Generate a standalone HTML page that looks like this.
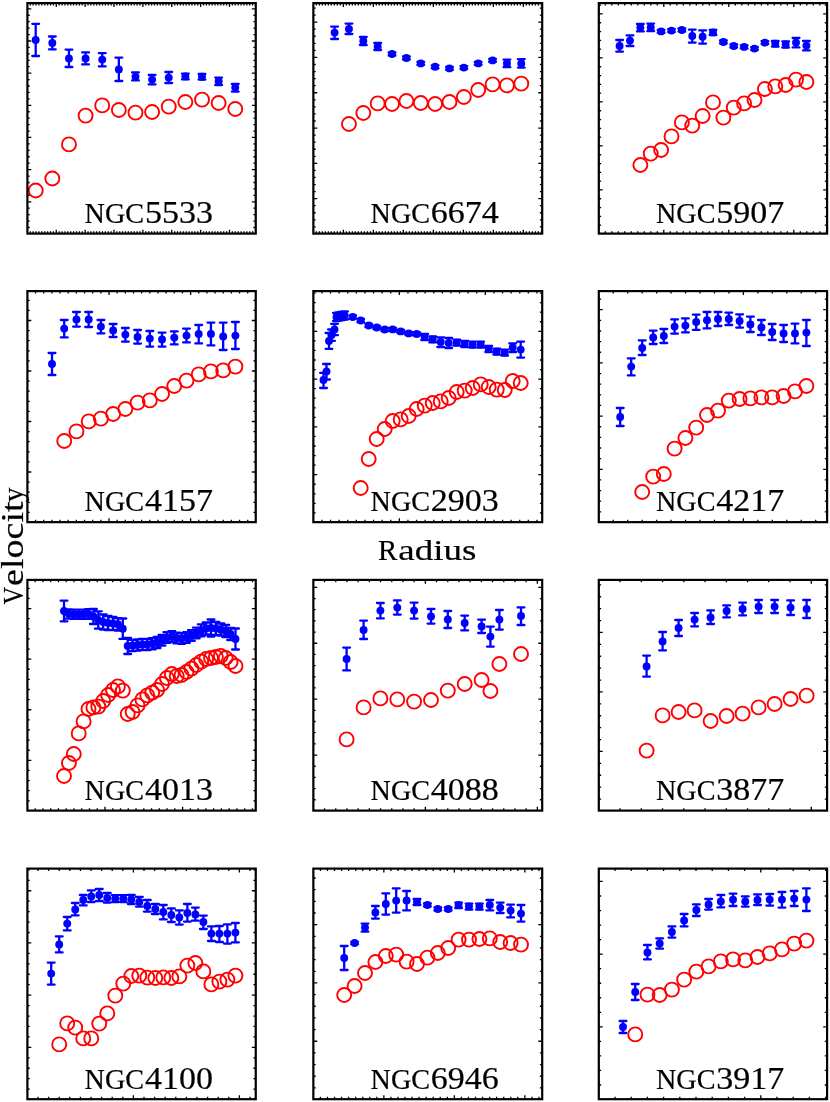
<!DOCTYPE html>
<html><head><meta charset="utf-8"><title>Rotation curves</title>
<style>html,body{margin:0;padding:0;background:#fff}svg{display:block;will-change:transform}text{font-family:"Liberation Serif",serif;fill:#000;stroke:#000;stroke-width:0.2px}</style></head>
<body>
<svg width="830" height="1102" viewBox="0 0 830 1102">
<g>
<path d="M30.29 3.1v2.35M30.29 233.6v-2.35M33.17 3.1v2.35M33.17 233.6v-2.35M36.06 3.1v2.35M36.06 233.6v-2.35M38.95 3.1v2.35M38.95 233.6v-2.35M41.84 3.1v2.35M41.84 233.6v-2.35M44.72 3.1v2.35M44.72 233.6v-2.35M47.61 3.1v2.35M47.61 233.6v-2.35M50.5 3.1v2.35M50.5 233.6v-2.35M53.38 3.1v2.35M53.38 233.6v-2.35M56.27 3.1v3.9M56.27 233.6v-3.9M59.16 3.1v2.35M59.16 233.6v-2.35M62.04 3.1v2.35M62.04 233.6v-2.35M64.93 3.1v2.35M64.93 233.6v-2.35M67.82 3.1v2.35M67.82 233.6v-2.35M70.7 3.1v2.35M70.7 233.6v-2.35M73.59 3.1v2.35M73.59 233.6v-2.35M76.48 3.1v2.35M76.48 233.6v-2.35M79.37 3.1v2.35M79.37 233.6v-2.35M82.25 3.1v2.35M82.25 233.6v-2.35M85.14 3.1v3.9M85.14 233.6v-3.9M88.03 3.1v2.35M88.03 233.6v-2.35M90.91 3.1v2.35M90.91 233.6v-2.35M93.8 3.1v2.35M93.8 233.6v-2.35M96.69 3.1v2.35M96.69 233.6v-2.35M99.57 3.1v2.35M99.57 233.6v-2.35M102.46 3.1v2.35M102.46 233.6v-2.35M105.35 3.1v2.35M105.35 233.6v-2.35M108.24 3.1v2.35M108.24 233.6v-2.35M111.12 3.1v2.35M111.12 233.6v-2.35M114.01 3.1v3.9M114.01 233.6v-3.9M116.9 3.1v2.35M116.9 233.6v-2.35M119.78 3.1v2.35M119.78 233.6v-2.35M122.67 3.1v2.35M122.67 233.6v-2.35M125.56 3.1v2.35M125.56 233.6v-2.35M128.44 3.1v2.35M128.44 233.6v-2.35M131.33 3.1v2.35M131.33 233.6v-2.35M134.22 3.1v2.35M134.22 233.6v-2.35M137.11 3.1v2.35M137.11 233.6v-2.35M139.99 3.1v2.35M139.99 233.6v-2.35M142.88 3.1v3.9M142.88 233.6v-3.9M145.77 3.1v2.35M145.77 233.6v-2.35M148.65 3.1v2.35M148.65 233.6v-2.35M151.54 3.1v2.35M151.54 233.6v-2.35M154.43 3.1v2.35M154.43 233.6v-2.35M157.31 3.1v2.35M157.31 233.6v-2.35M160.2 3.1v2.35M160.2 233.6v-2.35M163.09 3.1v2.35M163.09 233.6v-2.35M165.98 3.1v2.35M165.98 233.6v-2.35M168.86 3.1v2.35M168.86 233.6v-2.35M171.75 3.1v3.9M171.75 233.6v-3.9M174.64 3.1v2.35M174.64 233.6v-2.35M177.52 3.1v2.35M177.52 233.6v-2.35M180.41 3.1v2.35M180.41 233.6v-2.35M183.3 3.1v2.35M183.3 233.6v-2.35M186.19 3.1v2.35M186.19 233.6v-2.35M189.07 3.1v2.35M189.07 233.6v-2.35M191.96 3.1v2.35M191.96 233.6v-2.35M194.85 3.1v2.35M194.85 233.6v-2.35M197.73 3.1v2.35M197.73 233.6v-2.35M200.62 3.1v3.9M200.62 233.6v-3.9M203.51 3.1v2.35M203.51 233.6v-2.35M206.39 3.1v2.35M206.39 233.6v-2.35M209.28 3.1v2.35M209.28 233.6v-2.35M212.17 3.1v2.35M212.17 233.6v-2.35M215.06 3.1v2.35M215.06 233.6v-2.35M217.94 3.1v2.35M217.94 233.6v-2.35M220.83 3.1v2.35M220.83 233.6v-2.35M223.72 3.1v2.35M223.72 233.6v-2.35M226.6 3.1v2.35M226.6 233.6v-2.35M229.49 3.1v3.9M229.49 233.6v-3.9M232.38 3.1v2.35M232.38 233.6v-2.35M235.26 3.1v2.35M235.26 233.6v-2.35M238.15 3.1v2.35M238.15 233.6v-2.35M241.04 3.1v2.35M241.04 233.6v-2.35M243.93 3.1v2.35M243.93 233.6v-2.35M246.81 3.1v2.35M246.81 233.6v-2.35M249.7 3.1v2.35M249.7 233.6v-2.35M252.59 3.1v2.35M252.59 233.6v-2.35M27.4 227.52h2.35M255.75 227.52h-2.35M27.4 221.09h2.35M255.75 221.09h-2.35M27.4 214.65h2.35M255.75 214.65h-2.35M27.4 208.22h2.35M255.75 208.22h-2.35M27.4 201.79h3.9M255.75 201.79h-3.9M27.4 195.36h2.35M255.75 195.36h-2.35M27.4 188.93h2.35M255.75 188.93h-2.35M27.4 182.49h2.35M255.75 182.49h-2.35M27.4 176.06h2.35M255.75 176.06h-2.35M27.4 169.63h3.9M255.75 169.63h-3.9M27.4 163.2h2.35M255.75 163.2h-2.35M27.4 156.77h2.35M255.75 156.77h-2.35M27.4 150.33h2.35M255.75 150.33h-2.35M27.4 143.9h2.35M255.75 143.9h-2.35M27.4 137.47h3.9M255.75 137.47h-3.9M27.4 131.04h2.35M255.75 131.04h-2.35M27.4 124.61h2.35M255.75 124.61h-2.35M27.4 118.17h2.35M255.75 118.17h-2.35M27.4 111.74h2.35M255.75 111.74h-2.35M27.4 105.31h3.9M255.75 105.31h-3.9M27.4 98.88h2.35M255.75 98.88h-2.35M27.4 92.45h2.35M255.75 92.45h-2.35M27.4 86.01h2.35M255.75 86.01h-2.35M27.4 79.58h2.35M255.75 79.58h-2.35M27.4 73.15h3.9M255.75 73.15h-3.9M27.4 66.72h2.35M255.75 66.72h-2.35M27.4 60.29h2.35M255.75 60.29h-2.35M27.4 53.85h2.35M255.75 53.85h-2.35M27.4 47.42h2.35M255.75 47.42h-2.35M27.4 40.99h3.9M255.75 40.99h-3.9M27.4 34.56h2.35M255.75 34.56h-2.35M27.4 28.13h2.35M255.75 28.13h-2.35M27.4 21.69h2.35M255.75 21.69h-2.35M27.4 15.26h2.35M255.75 15.26h-2.35M27.4 8.83h3.9M255.75 8.83h-3.9" stroke="#000" stroke-width="1.3" fill="none"/>
<path d="M35.7 23.8V56M32.3 23.8h6.8M32.3 56h6.8M52.33 36.5V49.3M48.93 36.5h6.8M48.93 49.3h6.8M68.96 49.6V67M65.56 49.6h6.8M65.56 67h6.8M85.59 52.4V64.4M82.19 52.4h6.8M82.19 64.4h6.8M102.22 53.2V66.4M98.82 53.2h6.8M98.82 66.4h6.8M118.85 57.6V81M115.45 57.6h6.8M115.45 81h6.8M135.48 72.4V80.4M132.08 72.4h6.8M132.08 80.4h6.8M152.11 75V84.4M148.71 75h6.8M148.71 84.4h6.8M168.74 72V83M165.34 72h6.8M165.34 83h6.8M185.37 73.6V79.4M181.97 73.6h6.8M181.97 79.4h6.8M202 74V79.6M198.6 74h6.8M198.6 79.6h6.8M218.63 77.6V85M215.23 77.6h6.8M215.23 85h6.8M235.26 84V91.6M231.86 84h6.8M231.86 91.6h6.8" stroke="#00f" stroke-width="2.3" stroke-linecap="round" fill="none"/>
<g fill="#00f"><circle cx="35.7" cy="40" r="3.95"/><circle cx="52.33" cy="43" r="3.95"/><circle cx="68.96" cy="58.4" r="3.95"/><circle cx="85.59" cy="58.4" r="3.95"/><circle cx="102.22" cy="59.6" r="3.95"/><circle cx="118.85" cy="69.4" r="3.95"/><circle cx="135.48" cy="76.6" r="3.95"/><circle cx="152.11" cy="79.6" r="3.95"/><circle cx="168.74" cy="77.6" r="3.95"/><circle cx="185.37" cy="76.4" r="3.95"/><circle cx="202" cy="76.8" r="3.95"/><circle cx="218.63" cy="81.2" r="3.95"/><circle cx="235.26" cy="87.6" r="3.95"/></g>
<g fill="none" stroke="#f00" stroke-width="1.9"><circle cx="35.7" cy="190.5" r="7"/><circle cx="52.33" cy="178.5" r="7"/><circle cx="68.96" cy="144.4" r="7"/><circle cx="85.59" cy="115.6" r="7"/><circle cx="102.22" cy="105.4" r="7"/><circle cx="118.85" cy="110" r="7"/><circle cx="135.48" cy="112.6" r="7"/><circle cx="152.11" cy="112" r="7"/><circle cx="168.74" cy="106.6" r="7"/><circle cx="185.37" cy="102" r="7"/><circle cx="202" cy="99.6" r="7"/><circle cx="218.63" cy="103" r="7"/><circle cx="235.26" cy="109" r="7"/></g>
<rect x="27.4" y="3.1" width="228.35" height="230.5" fill="none" stroke="#000" stroke-width="2.2"/>
<text transform="translate(84.6 223) scale(0.925 1)" font-size="30.5">NGC</text><text transform="translate(144.9 223) scale(1.115 1)" font-size="30.5">5533</text>
</g>
<g>
<path d="M316.35 3.1v2.35M316.35 233.6v-2.35M319.35 3.1v2.35M319.35 233.6v-2.35M322.35 3.1v2.35M322.35 233.6v-2.35M325.35 3.1v2.35M325.35 233.6v-2.35M328.35 3.1v2.35M328.35 233.6v-2.35M331.35 3.1v2.35M331.35 233.6v-2.35M334.35 3.1v2.35M334.35 233.6v-2.35M337.35 3.1v2.35M337.35 233.6v-2.35M340.35 3.1v2.35M340.35 233.6v-2.35M343.35 3.1v3.9M343.35 233.6v-3.9M346.35 3.1v2.35M346.35 233.6v-2.35M349.35 3.1v2.35M349.35 233.6v-2.35M352.35 3.1v2.35M352.35 233.6v-2.35M355.35 3.1v2.35M355.35 233.6v-2.35M358.35 3.1v2.35M358.35 233.6v-2.35M361.35 3.1v2.35M361.35 233.6v-2.35M364.35 3.1v2.35M364.35 233.6v-2.35M367.35 3.1v2.35M367.35 233.6v-2.35M370.35 3.1v2.35M370.35 233.6v-2.35M373.35 3.1v3.9M373.35 233.6v-3.9M376.35 3.1v2.35M376.35 233.6v-2.35M379.35 3.1v2.35M379.35 233.6v-2.35M382.35 3.1v2.35M382.35 233.6v-2.35M385.35 3.1v2.35M385.35 233.6v-2.35M388.35 3.1v2.35M388.35 233.6v-2.35M391.35 3.1v2.35M391.35 233.6v-2.35M394.35 3.1v2.35M394.35 233.6v-2.35M397.35 3.1v2.35M397.35 233.6v-2.35M400.35 3.1v2.35M400.35 233.6v-2.35M403.35 3.1v3.9M403.35 233.6v-3.9M406.35 3.1v2.35M406.35 233.6v-2.35M409.35 3.1v2.35M409.35 233.6v-2.35M412.35 3.1v2.35M412.35 233.6v-2.35M415.35 3.1v2.35M415.35 233.6v-2.35M418.35 3.1v2.35M418.35 233.6v-2.35M421.35 3.1v2.35M421.35 233.6v-2.35M424.35 3.1v2.35M424.35 233.6v-2.35M427.35 3.1v2.35M427.35 233.6v-2.35M430.35 3.1v2.35M430.35 233.6v-2.35M433.35 3.1v3.9M433.35 233.6v-3.9M436.35 3.1v2.35M436.35 233.6v-2.35M439.35 3.1v2.35M439.35 233.6v-2.35M442.35 3.1v2.35M442.35 233.6v-2.35M445.35 3.1v2.35M445.35 233.6v-2.35M448.35 3.1v2.35M448.35 233.6v-2.35M451.35 3.1v2.35M451.35 233.6v-2.35M454.35 3.1v2.35M454.35 233.6v-2.35M457.35 3.1v2.35M457.35 233.6v-2.35M460.35 3.1v2.35M460.35 233.6v-2.35M463.35 3.1v3.9M463.35 233.6v-3.9M466.35 3.1v2.35M466.35 233.6v-2.35M469.35 3.1v2.35M469.35 233.6v-2.35M472.35 3.1v2.35M472.35 233.6v-2.35M475.35 3.1v2.35M475.35 233.6v-2.35M478.35 3.1v2.35M478.35 233.6v-2.35M481.35 3.1v2.35M481.35 233.6v-2.35M484.35 3.1v2.35M484.35 233.6v-2.35M487.35 3.1v2.35M487.35 233.6v-2.35M490.35 3.1v2.35M490.35 233.6v-2.35M493.35 3.1v3.9M493.35 233.6v-3.9M496.35 3.1v2.35M496.35 233.6v-2.35M499.35 3.1v2.35M499.35 233.6v-2.35M502.35 3.1v2.35M502.35 233.6v-2.35M505.35 3.1v2.35M505.35 233.6v-2.35M508.35 3.1v2.35M508.35 233.6v-2.35M511.35 3.1v2.35M511.35 233.6v-2.35M514.35 3.1v2.35M514.35 233.6v-2.35M517.35 3.1v2.35M517.35 233.6v-2.35M520.35 3.1v2.35M520.35 233.6v-2.35M523.35 3.1v3.9M523.35 233.6v-3.9M526.35 3.1v2.35M526.35 233.6v-2.35M529.35 3.1v2.35M529.35 233.6v-2.35M532.35 3.1v2.35M532.35 233.6v-2.35M535.35 3.1v2.35M535.35 233.6v-2.35M538.35 3.1v2.35M538.35 233.6v-2.35M541.35 3.1v2.35M541.35 233.6v-2.35M313.35 226.89h2.35M542.2 226.89h-2.35M313.35 219.83h2.35M542.2 219.83h-2.35M313.35 212.77h2.35M542.2 212.77h-2.35M313.35 205.71h2.35M542.2 205.71h-2.35M313.35 198.65h3.9M542.2 198.65h-3.9M313.35 191.59h2.35M542.2 191.59h-2.35M313.35 184.53h2.35M542.2 184.53h-2.35M313.35 177.47h2.35M542.2 177.47h-2.35M313.35 170.41h2.35M542.2 170.41h-2.35M313.35 163.35h3.9M542.2 163.35h-3.9M313.35 156.29h2.35M542.2 156.29h-2.35M313.35 149.23h2.35M542.2 149.23h-2.35M313.35 142.17h2.35M542.2 142.17h-2.35M313.35 135.11h2.35M542.2 135.11h-2.35M313.35 128.05h3.9M542.2 128.05h-3.9M313.35 120.99h2.35M542.2 120.99h-2.35M313.35 113.93h2.35M542.2 113.93h-2.35M313.35 106.87h2.35M542.2 106.87h-2.35M313.35 99.81h2.35M542.2 99.81h-2.35M313.35 92.75h3.9M542.2 92.75h-3.9M313.35 85.69h2.35M542.2 85.69h-2.35M313.35 78.63h2.35M542.2 78.63h-2.35M313.35 71.57h2.35M542.2 71.57h-2.35M313.35 64.51h2.35M542.2 64.51h-2.35M313.35 57.45h3.9M542.2 57.45h-3.9M313.35 50.39h2.35M542.2 50.39h-2.35M313.35 43.33h2.35M542.2 43.33h-2.35M313.35 36.27h2.35M542.2 36.27h-2.35M313.35 29.21h2.35M542.2 29.21h-2.35M313.35 22.15h3.9M542.2 22.15h-3.9M313.35 15.09h2.35M542.2 15.09h-2.35M313.35 8.03h2.35M542.2 8.03h-2.35" stroke="#000" stroke-width="1.3" fill="none"/>
<path d="M334.6 26.6V39M331.2 26.6h6.8M331.2 39h6.8M348.96 23.6V34M345.56 23.6h6.8M345.56 34h6.8M363.32 37V45M359.92 37h6.8M359.92 45h6.8M377.68 43V50M374.28 43h6.8M374.28 50h6.8M392.04 52.5V55.5M388.64 52.5h6.8M388.64 55.5h6.8M406.4 56.5V59.5M403 56.5h6.8M403 59.5h6.8M420.76 61.9V64.9M417.36 61.9h6.8M417.36 64.9h6.8M435.12 65.3V68.3M431.72 65.3h6.8M431.72 68.3h6.8M449.48 66.9V69.9M446.08 66.9h6.8M446.08 69.9h6.8M463.84 66.1V69.1M460.44 66.1h6.8M460.44 69.1h6.8M478.2 61.9V64.9M474.8 61.9h6.8M474.8 64.9h6.8M492.56 58.9V61.9M489.16 58.9h6.8M489.16 61.9h6.8M506.92 59.6V67.2M503.52 59.6h6.8M503.52 67.2h6.8M521.28 59.2V67.6M517.88 59.2h6.8M517.88 67.6h6.8" stroke="#00f" stroke-width="2.3" stroke-linecap="round" fill="none"/>
<g fill="#00f"><circle cx="334.6" cy="32.6" r="3.95"/><circle cx="348.96" cy="29" r="3.95"/><circle cx="363.32" cy="41" r="3.95"/><circle cx="377.68" cy="46.4" r="3.95"/><circle cx="392.04" cy="54" r="3.95"/><circle cx="406.4" cy="58" r="3.95"/><circle cx="420.76" cy="63.4" r="3.95"/><circle cx="435.12" cy="66.8" r="3.95"/><circle cx="449.48" cy="68.4" r="3.95"/><circle cx="463.84" cy="67.6" r="3.95"/><circle cx="478.2" cy="63.4" r="3.95"/><circle cx="492.56" cy="60.4" r="3.95"/><circle cx="506.92" cy="63.4" r="3.95"/><circle cx="521.28" cy="63.4" r="3.95"/></g>
<g fill="none" stroke="#f00" stroke-width="1.9"><circle cx="348.96" cy="124" r="7"/><circle cx="363.32" cy="113" r="7"/><circle cx="377.68" cy="103.4" r="7"/><circle cx="392.04" cy="104" r="7"/><circle cx="406.4" cy="101" r="7"/><circle cx="420.76" cy="103" r="7"/><circle cx="435.12" cy="104" r="7"/><circle cx="449.48" cy="102" r="7"/><circle cx="463.84" cy="97" r="7"/><circle cx="478.2" cy="90" r="7"/><circle cx="492.56" cy="84.4" r="7"/><circle cx="506.92" cy="85.4" r="7"/><circle cx="521.28" cy="83.6" r="7"/></g>
<rect x="313.35" y="3.1" width="228.85" height="230.5" fill="none" stroke="#000" stroke-width="2.2"/>
<text transform="translate(370.55 223) scale(0.925 1)" font-size="30.5">NGC</text><text transform="translate(430.85 223) scale(1.115 1)" font-size="30.5">6674</text>
</g>
<g>
<path d="M605.3 3.1v2.35M605.3 233.6v-2.35M611.8 3.1v2.35M611.8 233.6v-2.35M618.3 3.1v2.35M618.3 233.6v-2.35M624.8 3.1v2.35M624.8 233.6v-2.35M631.3 3.1v2.35M631.3 233.6v-2.35M637.8 3.1v2.35M637.8 233.6v-2.35M644.3 3.1v2.35M644.3 233.6v-2.35M650.8 3.1v2.35M650.8 233.6v-2.35M657.3 3.1v2.35M657.3 233.6v-2.35M663.8 3.1v3.9M663.8 233.6v-3.9M670.3 3.1v2.35M670.3 233.6v-2.35M676.8 3.1v2.35M676.8 233.6v-2.35M683.3 3.1v2.35M683.3 233.6v-2.35M689.8 3.1v2.35M689.8 233.6v-2.35M696.3 3.1v2.35M696.3 233.6v-2.35M702.8 3.1v2.35M702.8 233.6v-2.35M709.3 3.1v2.35M709.3 233.6v-2.35M715.8 3.1v2.35M715.8 233.6v-2.35M722.3 3.1v2.35M722.3 233.6v-2.35M728.8 3.1v3.9M728.8 233.6v-3.9M735.3 3.1v2.35M735.3 233.6v-2.35M741.8 3.1v2.35M741.8 233.6v-2.35M748.3 3.1v2.35M748.3 233.6v-2.35M754.8 3.1v2.35M754.8 233.6v-2.35M761.3 3.1v2.35M761.3 233.6v-2.35M767.8 3.1v2.35M767.8 233.6v-2.35M774.3 3.1v2.35M774.3 233.6v-2.35M780.8 3.1v2.35M780.8 233.6v-2.35M787.3 3.1v2.35M787.3 233.6v-2.35M793.8 3.1v3.9M793.8 233.6v-3.9M800.3 3.1v2.35M800.3 233.6v-2.35M806.8 3.1v2.35M806.8 233.6v-2.35M813.3 3.1v2.35M813.3 233.6v-2.35M819.8 3.1v2.35M819.8 233.6v-2.35M826.3 3.1v2.35M826.3 233.6v-2.35M598.8 225.15h2.35M827.1 225.15h-2.35M598.8 216.35h2.35M827.1 216.35h-2.35M598.8 207.55h2.35M827.1 207.55h-2.35M598.8 198.75h2.35M827.1 198.75h-2.35M598.8 189.95h3.9M827.1 189.95h-3.9M598.8 181.15h2.35M827.1 181.15h-2.35M598.8 172.35h2.35M827.1 172.35h-2.35M598.8 163.55h2.35M827.1 163.55h-2.35M598.8 154.75h2.35M827.1 154.75h-2.35M598.8 145.95h3.9M827.1 145.95h-3.9M598.8 137.15h2.35M827.1 137.15h-2.35M598.8 128.35h2.35M827.1 128.35h-2.35M598.8 119.55h2.35M827.1 119.55h-2.35M598.8 110.75h2.35M827.1 110.75h-2.35M598.8 101.95h3.9M827.1 101.95h-3.9M598.8 93.15h2.35M827.1 93.15h-2.35M598.8 84.35h2.35M827.1 84.35h-2.35M598.8 75.55h2.35M827.1 75.55h-2.35M598.8 66.75h2.35M827.1 66.75h-2.35M598.8 57.95h3.9M827.1 57.95h-3.9M598.8 49.15h2.35M827.1 49.15h-2.35M598.8 40.35h2.35M827.1 40.35h-2.35M598.8 31.55h2.35M827.1 31.55h-2.35M598.8 22.75h2.35M827.1 22.75h-2.35M598.8 13.95h3.9M827.1 13.95h-3.9M598.8 5.15h2.35M827.1 5.15h-2.35" stroke="#000" stroke-width="1.3" fill="none"/>
<path d="M619.6 40V51.6M616.2 40h6.8M616.2 51.6h6.8M629.98 35.4V46M626.58 35.4h6.8M626.58 46h6.8M640.36 24V31.4M636.96 24h6.8M636.96 31.4h6.8M650.73 23.6V31.2M647.33 23.6h6.8M647.33 31.2h6.8M661.11 29.9V32.9M657.71 29.9h6.8M657.71 32.9h6.8M671.49 29.1V32.1M668.09 29.1h6.8M668.09 32.1h6.8M681.87 28.5V31.5M678.47 28.5h6.8M678.47 31.5h6.8M692.25 29.6V42.6M688.85 29.6h6.8M688.85 42.6h6.8M702.62 30.4V43.6M699.22 30.4h6.8M699.22 43.6h6.8M713 29.8V35M709.6 29.8h6.8M709.6 35h6.8M723.38 40.5V43.5M719.98 40.5h6.8M719.98 43.5h6.8M733.76 44.5V47.5M730.36 44.5h6.8M730.36 47.5h6.8M744.14 45.4V48.4M740.74 45.4h6.8M740.74 48.4h6.8M754.51 47.1V50.1M751.11 47.1h6.8M751.11 50.1h6.8M764.89 41.1V44.1M761.49 41.1h6.8M761.49 44.1h6.8M775.27 41V46.6M771.87 41h6.8M771.87 46.6h6.8M785.65 41.4V47.6M782.25 41.4h6.8M782.25 47.6h6.8M796.03 38V47.4M792.63 38h6.8M792.63 47.4h6.8M806.4 41V50.4M803 41h6.8M803 50.4h6.8" stroke="#00f" stroke-width="2.3" stroke-linecap="round" fill="none"/>
<g fill="#00f"><circle cx="619.6" cy="46" r="3.95"/><circle cx="629.98" cy="40.6" r="3.95"/><circle cx="640.36" cy="27.6" r="3.95"/><circle cx="650.73" cy="27.4" r="3.95"/><circle cx="661.11" cy="31.4" r="3.95"/><circle cx="671.49" cy="30.6" r="3.95"/><circle cx="681.87" cy="30" r="3.95"/><circle cx="692.25" cy="36" r="3.95"/><circle cx="702.62" cy="36.8" r="3.95"/><circle cx="713" cy="32.4" r="3.95"/><circle cx="723.38" cy="42" r="3.95"/><circle cx="733.76" cy="46" r="3.95"/><circle cx="744.14" cy="46.9" r="3.95"/><circle cx="754.51" cy="48.6" r="3.95"/><circle cx="764.89" cy="42.6" r="3.95"/><circle cx="775.27" cy="43.6" r="3.95"/><circle cx="785.65" cy="44.4" r="3.95"/><circle cx="796.03" cy="42.6" r="3.95"/><circle cx="806.4" cy="45.6" r="3.95"/></g>
<g fill="none" stroke="#f00" stroke-width="1.9"><circle cx="640.36" cy="165" r="7"/><circle cx="650.73" cy="153.6" r="7"/><circle cx="661.11" cy="150" r="7"/><circle cx="671.49" cy="136.4" r="7"/><circle cx="681.87" cy="122.4" r="7"/><circle cx="692.25" cy="125.6" r="7"/><circle cx="702.62" cy="116" r="7"/><circle cx="713" cy="102.4" r="7"/><circle cx="723.38" cy="117.6" r="7"/><circle cx="733.76" cy="107.6" r="7"/><circle cx="744.14" cy="103.4" r="7"/><circle cx="754.51" cy="100" r="7"/><circle cx="764.89" cy="89" r="7"/><circle cx="775.27" cy="86.4" r="7"/><circle cx="785.65" cy="85" r="7"/><circle cx="796.03" cy="79.6" r="7"/><circle cx="806.4" cy="82" r="7"/></g>
<rect x="598.8" y="3.1" width="228.3" height="230.5" fill="none" stroke="#000" stroke-width="2.2"/>
<text transform="translate(656 223) scale(0.925 1)" font-size="30.5">NGC</text><text transform="translate(716.3 223) scale(1.115 1)" font-size="30.5">5907</text>
</g>
<g>
<path d="M35.56 291.1v2.35M35.56 522.15v-2.35M43.72 291.1v2.35M43.72 522.15v-2.35M51.88 291.1v2.35M51.88 522.15v-2.35M60.04 291.1v2.35M60.04 522.15v-2.35M68.2 291.1v2.35M68.2 522.15v-2.35M76.36 291.1v2.35M76.36 522.15v-2.35M84.52 291.1v2.35M84.52 522.15v-2.35M92.68 291.1v2.35M92.68 522.15v-2.35M100.84 291.1v2.35M100.84 522.15v-2.35M109 291.1v3.9M109 522.15v-3.9M117.16 291.1v2.35M117.16 522.15v-2.35M125.32 291.1v2.35M125.32 522.15v-2.35M133.48 291.1v2.35M133.48 522.15v-2.35M141.64 291.1v2.35M141.64 522.15v-2.35M149.8 291.1v2.35M149.8 522.15v-2.35M157.96 291.1v2.35M157.96 522.15v-2.35M166.12 291.1v2.35M166.12 522.15v-2.35M174.28 291.1v2.35M174.28 522.15v-2.35M182.44 291.1v2.35M182.44 522.15v-2.35M190.6 291.1v3.9M190.6 522.15v-3.9M198.76 291.1v2.35M198.76 522.15v-2.35M206.92 291.1v2.35M206.92 522.15v-2.35M215.08 291.1v2.35M215.08 522.15v-2.35M223.24 291.1v2.35M223.24 522.15v-2.35M231.4 291.1v2.35M231.4 522.15v-2.35M239.56 291.1v2.35M239.56 522.15v-2.35M247.72 291.1v2.35M247.72 522.15v-2.35M27.4 512.4h2.35M255.75 512.4h-2.35M27.4 502.3h2.35M255.75 502.3h-2.35M27.4 492.2h2.35M255.75 492.2h-2.35M27.4 482.1h2.35M255.75 482.1h-2.35M27.4 472h3.9M255.75 472h-3.9M27.4 461.9h2.35M255.75 461.9h-2.35M27.4 451.8h2.35M255.75 451.8h-2.35M27.4 441.7h2.35M255.75 441.7h-2.35M27.4 431.6h2.35M255.75 431.6h-2.35M27.4 421.5h3.9M255.75 421.5h-3.9M27.4 411.4h2.35M255.75 411.4h-2.35M27.4 401.3h2.35M255.75 401.3h-2.35M27.4 391.2h2.35M255.75 391.2h-2.35M27.4 381.1h2.35M255.75 381.1h-2.35M27.4 371h3.9M255.75 371h-3.9M27.4 360.9h2.35M255.75 360.9h-2.35M27.4 350.8h2.35M255.75 350.8h-2.35M27.4 340.7h2.35M255.75 340.7h-2.35M27.4 330.6h2.35M255.75 330.6h-2.35M27.4 320.5h3.9M255.75 320.5h-3.9M27.4 310.4h2.35M255.75 310.4h-2.35M27.4 300.3h2.35M255.75 300.3h-2.35" stroke="#000" stroke-width="1.3" fill="none"/>
<path d="M52 353V375M48.6 353h6.8M48.6 375h6.8M64.23 320V337.4M60.83 320h6.8M60.83 337.4h6.8M76.45 312V326.6M73.05 312h6.8M73.05 326.6h6.8M88.68 312V327M85.28 312h6.8M85.28 327h6.8M100.91 320V333.4M97.51 320h6.8M97.51 333.4h6.8M113.14 324V337M109.73 324h6.8M109.73 337h6.8M125.36 328V341.6M121.96 328h6.8M121.96 341.6h6.8M137.59 330V343.6M134.19 330h6.8M134.19 343.6h6.8M149.82 331V346.6M146.42 331h6.8M146.42 346.6h6.8M162.04 332.6V346.6M158.64 332.6h6.8M158.64 346.6h6.8M174.27 331.4V344.4M170.87 331.4h6.8M170.87 344.4h6.8M186.5 328.6V342.4M183.1 328.6h6.8M183.1 342.4h6.8M198.72 325V343.4M195.32 325h6.8M195.32 343.4h6.8M210.95 322.6V345.4M207.55 322.6h6.8M207.55 345.4h6.8M223.18 322.6V350M219.78 322.6h6.8M219.78 350h6.8M235.41 322V349M232 322h6.8M232 349h6.8" stroke="#00f" stroke-width="2.3" stroke-linecap="round" fill="none"/>
<g fill="#00f"><circle cx="52" cy="364" r="3.95"/><circle cx="64.23" cy="328.6" r="3.95"/><circle cx="76.45" cy="319.4" r="3.95"/><circle cx="88.68" cy="319.4" r="3.95"/><circle cx="100.91" cy="326.6" r="3.95"/><circle cx="113.14" cy="330.4" r="3.95"/><circle cx="125.36" cy="334.6" r="3.95"/><circle cx="137.59" cy="337" r="3.95"/><circle cx="149.82" cy="338.6" r="3.95"/><circle cx="162.04" cy="339.4" r="3.95"/><circle cx="174.27" cy="337.6" r="3.95"/><circle cx="186.5" cy="335.6" r="3.95"/><circle cx="198.72" cy="334" r="3.95"/><circle cx="210.95" cy="334" r="3.95"/><circle cx="223.18" cy="336.4" r="3.95"/><circle cx="235.41" cy="335.6" r="3.95"/></g>
<g fill="none" stroke="#f00" stroke-width="1.9"><circle cx="64.23" cy="441" r="7"/><circle cx="76.45" cy="431.4" r="7"/><circle cx="88.68" cy="421.4" r="7"/><circle cx="100.91" cy="418.6" r="7"/><circle cx="113.14" cy="414" r="7"/><circle cx="125.36" cy="409" r="7"/><circle cx="137.59" cy="402.6" r="7"/><circle cx="149.82" cy="400.4" r="7"/><circle cx="162.04" cy="394" r="7"/><circle cx="174.27" cy="386" r="7"/><circle cx="186.5" cy="380.6" r="7"/><circle cx="198.72" cy="374.4" r="7"/><circle cx="210.95" cy="371.4" r="7"/><circle cx="223.18" cy="370.4" r="7"/><circle cx="235.41" cy="366.6" r="7"/></g>
<rect x="27.4" y="291.1" width="228.35" height="231.05" fill="none" stroke="#000" stroke-width="2.2"/>
<text transform="translate(84.6 511) scale(0.925 1)" font-size="30.5">NGC</text><text transform="translate(144.9 511) scale(1.115 1)" font-size="30.5">4157</text>
</g>
<g>
<path d="M321.95 291.1v2.35M321.95 522.15v-2.35M330.55 291.1v2.35M330.55 522.15v-2.35M339.15 291.1v2.35M339.15 522.15v-2.35M347.75 291.1v2.35M347.75 522.15v-2.35M356.35 291.1v2.35M356.35 522.15v-2.35M364.95 291.1v2.35M364.95 522.15v-2.35M373.55 291.1v2.35M373.55 522.15v-2.35M382.15 291.1v2.35M382.15 522.15v-2.35M390.75 291.1v2.35M390.75 522.15v-2.35M399.35 291.1v3.9M399.35 522.15v-3.9M407.95 291.1v2.35M407.95 522.15v-2.35M416.55 291.1v2.35M416.55 522.15v-2.35M425.15 291.1v2.35M425.15 522.15v-2.35M433.75 291.1v2.35M433.75 522.15v-2.35M442.35 291.1v2.35M442.35 522.15v-2.35M450.95 291.1v2.35M450.95 522.15v-2.35M459.55 291.1v2.35M459.55 522.15v-2.35M468.15 291.1v2.35M468.15 522.15v-2.35M476.75 291.1v2.35M476.75 522.15v-2.35M485.35 291.1v3.9M485.35 522.15v-3.9M493.95 291.1v2.35M493.95 522.15v-2.35M502.55 291.1v2.35M502.55 522.15v-2.35M511.15 291.1v2.35M511.15 522.15v-2.35M519.75 291.1v2.35M519.75 522.15v-2.35M528.35 291.1v2.35M528.35 522.15v-2.35M536.95 291.1v2.35M536.95 522.15v-2.35M313.35 512.94h2.35M542.2 512.94h-2.35M313.35 503.38h2.35M542.2 503.38h-2.35M313.35 493.82h2.35M542.2 493.82h-2.35M313.35 484.26h2.35M542.2 484.26h-2.35M313.35 474.7h3.9M542.2 474.7h-3.9M313.35 465.14h2.35M542.2 465.14h-2.35M313.35 455.58h2.35M542.2 455.58h-2.35M313.35 446.02h2.35M542.2 446.02h-2.35M313.35 436.46h2.35M542.2 436.46h-2.35M313.35 426.9h3.9M542.2 426.9h-3.9M313.35 417.34h2.35M542.2 417.34h-2.35M313.35 407.78h2.35M542.2 407.78h-2.35M313.35 398.22h2.35M542.2 398.22h-2.35M313.35 388.66h2.35M542.2 388.66h-2.35M313.35 379.1h3.9M542.2 379.1h-3.9M313.35 369.54h2.35M542.2 369.54h-2.35M313.35 359.98h2.35M542.2 359.98h-2.35M313.35 350.42h2.35M542.2 350.42h-2.35M313.35 340.86h2.35M542.2 340.86h-2.35M313.35 331.3h3.9M542.2 331.3h-3.9M313.35 321.74h2.35M542.2 321.74h-2.35M313.35 312.18h2.35M542.2 312.18h-2.35M313.35 302.62h2.35M542.2 302.62h-2.35M313.35 293.06h2.35M542.2 293.06h-2.35" stroke="#000" stroke-width="1.3" fill="none"/>
<path d="M323.5 372.8V388M320.1 372.8h6.8M320.1 388h6.8M326.5 364V379.5M323.1 364h6.8M323.1 379.5h6.8M329 333V348.8M325.6 333h6.8M325.6 348.8h6.8M331.5 329.5V340.8M328.1 329.5h6.8M328.1 340.8h6.8M334.5 323.8V335.2M331.1 323.8h6.8M331.1 335.2h6.8M336.5 313V321M333.1 313h6.8M333.1 321h6.8M339 312.5V320.5M335.6 312.5h6.8M335.6 320.5h6.8M341.5 312V320M338.1 312h6.8M338.1 320h6.8M344.5 311.5V319.5M341.1 311.5h6.8M341.1 319.5h6.8M352.7 315.4V318.6M349.3 315.4h6.8M349.3 318.6h6.8M360.7 318.9V322.1M357.3 318.9h6.8M357.3 322.1h6.8M368.7 323.9V327.1M365.3 323.9h6.8M365.3 327.1h6.8M376.7 325.9V329.1M373.3 325.9h6.8M373.3 329.1h6.8M384.7 327.9V331.1M381.3 327.9h6.8M381.3 331.1h6.8M392.7 327.8V331M389.3 327.8h6.8M389.3 331h6.8M400.7 329.8V333M397.3 329.8h6.8M397.3 333h6.8M408.7 331.8V335M405.3 331.8h6.8M405.3 335h6.8M416.7 332.4V335.6M413.3 332.4h6.8M413.3 335.6h6.8M424.7 334V340M421.3 334h6.8M421.3 340h6.8M432.7 336.4V342.4M429.3 336.4h6.8M429.3 342.4h6.8M440.7 337.4V347M437.3 337.4h6.8M437.3 347h6.8M448.7 338V348M445.3 338h6.8M445.3 348h6.8M456.7 339.6V345.6M453.3 339.6h6.8M453.3 345.6h6.8M464.7 341V347M461.3 341h6.8M461.3 347h6.8M472.7 341.6V347.6M469.3 341.6h6.8M469.3 347.6h6.8M480.7 341.6V347.6M477.3 341.6h6.8M477.3 347.6h6.8M488.7 346V352M485.3 346h6.8M485.3 352h6.8M496.7 348.6V354.6M493.3 348.6h6.8M493.3 354.6h6.8M504.7 349.6V355.6M501.3 349.6h6.8M501.3 355.6h6.8M512.7 343.4V352M509.3 343.4h6.8M509.3 352h6.8M520.7 341.6V357.6M517.3 341.6h6.8M517.3 357.6h6.8" stroke="#00f" stroke-width="2.3" stroke-linecap="round" fill="none"/>
<g fill="#00f"><circle cx="323.5" cy="380" r="3.95"/><circle cx="326.5" cy="371.5" r="3.95"/><circle cx="329" cy="341" r="3.95"/><circle cx="331.5" cy="335" r="3.95"/><circle cx="334.5" cy="329.5" r="3.95"/><circle cx="336.5" cy="317" r="3.95"/><circle cx="339" cy="316.5" r="3.95"/><circle cx="341.5" cy="316" r="3.95"/><circle cx="344.5" cy="315.5" r="3.95"/><circle cx="352.7" cy="317" r="3.95"/><circle cx="360.7" cy="320.5" r="3.95"/><circle cx="368.7" cy="325.5" r="3.95"/><circle cx="376.7" cy="327.5" r="3.95"/><circle cx="384.7" cy="329.5" r="3.95"/><circle cx="392.7" cy="329.4" r="3.95"/><circle cx="400.7" cy="331.4" r="3.95"/><circle cx="408.7" cy="333.4" r="3.95"/><circle cx="416.7" cy="334" r="3.95"/><circle cx="424.7" cy="337" r="3.95"/><circle cx="432.7" cy="339.4" r="3.95"/><circle cx="440.7" cy="342" r="3.95"/><circle cx="448.7" cy="343" r="3.95"/><circle cx="456.7" cy="342.6" r="3.95"/><circle cx="464.7" cy="344" r="3.95"/><circle cx="472.7" cy="344.6" r="3.95"/><circle cx="480.7" cy="344.6" r="3.95"/><circle cx="488.7" cy="349" r="3.95"/><circle cx="496.7" cy="351.6" r="3.95"/><circle cx="504.7" cy="352.6" r="3.95"/><circle cx="512.7" cy="347.4" r="3.95"/><circle cx="520.7" cy="349.6" r="3.95"/></g>
<g fill="none" stroke="#f00" stroke-width="1.9"><circle cx="360.7" cy="488" r="7"/><circle cx="368.7" cy="459" r="7"/><circle cx="376.7" cy="439" r="7"/><circle cx="384.7" cy="429" r="7"/><circle cx="392.7" cy="421" r="7"/><circle cx="400.7" cy="419.4" r="7"/><circle cx="408.7" cy="416" r="7"/><circle cx="416.7" cy="409" r="7"/><circle cx="424.7" cy="405.6" r="7"/><circle cx="432.7" cy="403" r="7"/><circle cx="440.7" cy="401.4" r="7"/><circle cx="448.7" cy="398" r="7"/><circle cx="456.7" cy="392" r="7"/><circle cx="464.7" cy="390.6" r="7"/><circle cx="472.7" cy="388" r="7"/><circle cx="480.7" cy="384.4" r="7"/><circle cx="488.7" cy="387" r="7"/><circle cx="496.7" cy="389.6" r="7"/><circle cx="504.7" cy="390" r="7"/><circle cx="512.7" cy="381" r="7"/><circle cx="520.7" cy="383" r="7"/></g>
<rect x="313.35" y="291.1" width="228.85" height="231.05" fill="none" stroke="#000" stroke-width="2.2"/>
<text transform="translate(370.55 511) scale(0.925 1)" font-size="30.5">NGC</text><text transform="translate(430.85 511) scale(1.115 1)" font-size="30.5">2903</text>
</g>
<g>
<path d="M613.26 291.1v2.35M613.26 522.15v-2.35M627.72 291.1v2.35M627.72 522.15v-2.35M642.18 291.1v2.35M642.18 522.15v-2.35M656.64 291.1v2.35M656.64 522.15v-2.35M671.1 291.1v2.35M671.1 522.15v-2.35M685.56 291.1v2.35M685.56 522.15v-2.35M700.02 291.1v2.35M700.02 522.15v-2.35M714.48 291.1v2.35M714.48 522.15v-2.35M728.94 291.1v2.35M728.94 522.15v-2.35M743.4 291.1v3.9M743.4 522.15v-3.9M757.86 291.1v2.35M757.86 522.15v-2.35M772.32 291.1v2.35M772.32 522.15v-2.35M786.78 291.1v2.35M786.78 522.15v-2.35M801.24 291.1v2.35M801.24 522.15v-2.35M815.7 291.1v2.35M815.7 522.15v-2.35M598.8 511.86h2.35M827.1 511.86h-2.35M598.8 501.22h2.35M827.1 501.22h-2.35M598.8 490.58h2.35M827.1 490.58h-2.35M598.8 479.94h2.35M827.1 479.94h-2.35M598.8 469.3h3.9M827.1 469.3h-3.9M598.8 458.66h2.35M827.1 458.66h-2.35M598.8 448.02h2.35M827.1 448.02h-2.35M598.8 437.38h2.35M827.1 437.38h-2.35M598.8 426.74h2.35M827.1 426.74h-2.35M598.8 416.1h3.9M827.1 416.1h-3.9M598.8 405.46h2.35M827.1 405.46h-2.35M598.8 394.82h2.35M827.1 394.82h-2.35M598.8 384.18h2.35M827.1 384.18h-2.35M598.8 373.54h2.35M827.1 373.54h-2.35M598.8 362.9h3.9M827.1 362.9h-3.9M598.8 352.26h2.35M827.1 352.26h-2.35M598.8 341.62h2.35M827.1 341.62h-2.35M598.8 330.98h2.35M827.1 330.98h-2.35M598.8 320.34h2.35M827.1 320.34h-2.35M598.8 309.7h3.9M827.1 309.7h-3.9M598.8 299.06h2.35M827.1 299.06h-2.35" stroke="#000" stroke-width="1.3" fill="none"/>
<path d="M620.2 408V426M616.8 408h6.8M616.8 426h6.8M631.2 358.4V375.4M627.8 358.4h6.8M627.8 375.4h6.8M642.2 340.4V355M638.8 340.4h6.8M638.8 355h6.8M653.2 330.6V344M649.8 330.6h6.8M649.8 344h6.8M663.8 329V343M660.4 329h6.8M660.4 343h6.8M674.6 319.4V333.6M671.2 319.4h6.8M671.2 333.6h6.8M685.4 318.4V332.4M682 318.4h6.8M682 332.4h6.8M696.2 314.6V329.8M692.8 314.6h6.8M692.8 329.8h6.8M707 312V328.4M703.6 312h6.8M703.6 328.4h6.8M718 312V326M714.6 312h6.8M714.6 326h6.8M728.8 312.6V325M725.4 312.6h6.8M725.4 325h6.8M739.6 314.4V327.6M736.2 314.4h6.8M736.2 327.6h6.8M750.4 316.6V332M747 316.6h6.8M747 332h6.8M761.4 320V335M758 320h6.8M758 335h6.8M772.2 324V340M768.8 324h6.8M768.8 340h6.8M783.6 325V342M780.2 325h6.8M780.2 342h6.8M795 323.6V343.4M791.6 323.6h6.8M791.6 343.4h6.8M806.4 320V346M803 320h6.8M803 346h6.8" stroke="#00f" stroke-width="2.3" stroke-linecap="round" fill="none"/>
<g fill="#00f"><circle cx="620.2" cy="417" r="3.95"/><circle cx="631.2" cy="366.6" r="3.95"/><circle cx="642.2" cy="348" r="3.95"/><circle cx="653.2" cy="337.4" r="3.95"/><circle cx="663.8" cy="336" r="3.95"/><circle cx="674.6" cy="326.6" r="3.95"/><circle cx="685.4" cy="325.6" r="3.95"/><circle cx="696.2" cy="322" r="3.95"/><circle cx="707" cy="320.2" r="3.95"/><circle cx="718" cy="319" r="3.95"/><circle cx="728.8" cy="319" r="3.95"/><circle cx="739.6" cy="321" r="3.95"/><circle cx="750.4" cy="324.4" r="3.95"/><circle cx="761.4" cy="327.4" r="3.95"/><circle cx="772.2" cy="332" r="3.95"/><circle cx="783.6" cy="333.4" r="3.95"/><circle cx="795" cy="333.4" r="3.95"/><circle cx="806.4" cy="332.6" r="3.95"/></g>
<g fill="none" stroke="#f00" stroke-width="1.9"><circle cx="642.2" cy="492" r="7"/><circle cx="653.2" cy="476.6" r="7"/><circle cx="663.8" cy="474" r="7"/><circle cx="674.6" cy="448.6" r="7"/><circle cx="685.4" cy="438" r="7"/><circle cx="696.2" cy="427.6" r="7"/><circle cx="707" cy="415" r="7"/><circle cx="718" cy="410.6" r="7"/><circle cx="728.8" cy="400.6" r="7"/><circle cx="739.6" cy="399" r="7"/><circle cx="750.4" cy="398.4" r="7"/><circle cx="761.4" cy="397.4" r="7"/><circle cx="772.2" cy="397.4" r="7"/><circle cx="783.6" cy="396" r="7"/><circle cx="795" cy="391.4" r="7"/><circle cx="806.4" cy="386" r="7"/></g>
<rect x="598.8" y="291.1" width="228.3" height="231.05" fill="none" stroke="#000" stroke-width="2.2"/>
<text transform="translate(656 511) scale(0.925 1)" font-size="30.5">NGC</text><text transform="translate(716.3 511) scale(1.115 1)" font-size="30.5">4217</text>
</g>
<g>
<path d="M35.16 579.9v2.35M35.16 810.6v-2.35M42.92 579.9v2.35M42.92 810.6v-2.35M50.68 579.9v2.35M50.68 810.6v-2.35M58.44 579.9v2.35M58.44 810.6v-2.35M66.2 579.9v2.35M66.2 810.6v-2.35M73.96 579.9v2.35M73.96 810.6v-2.35M81.72 579.9v2.35M81.72 810.6v-2.35M89.48 579.9v2.35M89.48 810.6v-2.35M97.24 579.9v2.35M97.24 810.6v-2.35M105 579.9v3.9M105 810.6v-3.9M112.76 579.9v2.35M112.76 810.6v-2.35M120.52 579.9v2.35M120.52 810.6v-2.35M128.28 579.9v2.35M128.28 810.6v-2.35M136.04 579.9v2.35M136.04 810.6v-2.35M143.8 579.9v2.35M143.8 810.6v-2.35M151.56 579.9v2.35M151.56 810.6v-2.35M159.32 579.9v2.35M159.32 810.6v-2.35M167.08 579.9v2.35M167.08 810.6v-2.35M174.84 579.9v2.35M174.84 810.6v-2.35M182.6 579.9v3.9M182.6 810.6v-3.9M190.36 579.9v2.35M190.36 810.6v-2.35M198.12 579.9v2.35M198.12 810.6v-2.35M205.88 579.9v2.35M205.88 810.6v-2.35M213.64 579.9v2.35M213.64 810.6v-2.35M221.4 579.9v2.35M221.4 810.6v-2.35M229.16 579.9v2.35M229.16 810.6v-2.35M236.92 579.9v2.35M236.92 810.6v-2.35M244.68 579.9v2.35M244.68 810.6v-2.35M252.44 579.9v2.35M252.44 810.6v-2.35M27.4 800.83h2.35M255.75 800.83h-2.35M27.4 790.71h2.35M255.75 790.71h-2.35M27.4 780.59h2.35M255.75 780.59h-2.35M27.4 770.47h2.35M255.75 770.47h-2.35M27.4 760.35h3.9M255.75 760.35h-3.9M27.4 750.23h2.35M255.75 750.23h-2.35M27.4 740.11h2.35M255.75 740.11h-2.35M27.4 729.99h2.35M255.75 729.99h-2.35M27.4 719.87h2.35M255.75 719.87h-2.35M27.4 709.75h3.9M255.75 709.75h-3.9M27.4 699.63h2.35M255.75 699.63h-2.35M27.4 689.51h2.35M255.75 689.51h-2.35M27.4 679.39h2.35M255.75 679.39h-2.35M27.4 669.27h2.35M255.75 669.27h-2.35M27.4 659.15h3.9M255.75 659.15h-3.9M27.4 649.03h2.35M255.75 649.03h-2.35M27.4 638.91h2.35M255.75 638.91h-2.35M27.4 628.79h2.35M255.75 628.79h-2.35M27.4 618.67h2.35M255.75 618.67h-2.35M27.4 608.55h3.9M255.75 608.55h-3.9M27.4 598.43h2.35M255.75 598.43h-2.35M27.4 588.31h2.35M255.75 588.31h-2.35" stroke="#000" stroke-width="1.3" fill="none"/>
<path d="M64 600.7V621.3M60.6 600.7h6.8M60.6 621.3h6.8M68.9 609.4V618.6M65.5 609.4h6.8M65.5 618.6h6.8M73.8 609.6V618.8M70.4 609.6h6.8M70.4 618.8h6.8M78.7 609.6V618.8M75.3 609.6h6.8M75.3 618.8h6.8M83.6 609.6V618.8M80.2 609.6h6.8M80.2 618.8h6.8M88.5 609.2V618.8M85.1 609.2h6.8M85.1 618.8h6.8M93.4 609V624M90 609h6.8M90 624h6.8M98.3 611.3V628.7M94.9 611.3h6.8M94.9 628.7h6.8M103.2 614.5V629.5M99.8 614.5h6.8M99.8 629.5h6.8M108.1 616V630M104.7 616h6.8M104.7 630h6.8M113 617V630M109.6 617h6.8M109.6 630h6.8M117.9 618.1V630.5M114.5 618.1h6.8M114.5 630.5h6.8M122.8 618.5V638.9M119.4 618.5h6.8M119.4 638.9h6.8M127.7 638V654M124.3 638h6.8M124.3 654h6.8M132.6 639.9V651.1M129.2 639.9h6.8M129.2 651.1h6.8M137.5 639.4V650.6M134.1 639.4h6.8M134.1 650.6h6.8M142.4 639V650.2M139 639h6.8M139 650.2h6.8M147.3 638.8V650M143.9 638.8h6.8M143.9 650h6.8M152.2 638.2V649.4M148.8 638.2h6.8M148.8 649.4h6.8M157.1 637V648M153.7 637h6.8M153.7 648h6.8M162 634.9V645.5M158.6 634.9h6.8M158.6 645.5h6.8M166.9 632.2V642.8M163.5 632.2h6.8M163.5 642.8h6.8M171.8 631.2V641.8M168.4 631.2h6.8M168.4 641.8h6.8M176.7 632.7V643.3M173.3 632.7h6.8M173.3 643.3h6.8M181.6 633.2V643.8M178.2 633.2h6.8M178.2 643.8h6.8M186.5 632.2V642.8M183.1 632.2h6.8M183.1 642.8h6.8M191.4 630.2V640.8M188 630.2h6.8M188 640.8h6.8M196.3 627.7V638.3M192.9 627.7h6.8M192.9 638.3h6.8M201.2 624.3V636.3M197.8 624.3h6.8M197.8 636.3h6.8M206.1 622.5V634.5M202.7 622.5h6.8M202.7 634.5h6.8M211 619.5V636.5M207.6 619.5h6.8M207.6 636.5h6.8M215.9 622V635M212.5 622h6.8M212.5 635h6.8M220.8 623.5V635.5M217.4 623.5h6.8M217.4 635.5h6.8M225.7 625V637M222.3 625h6.8M222.3 637h6.8M230.6 628V640M227.2 628h6.8M227.2 640h6.8M235.5 628.5V649.5M232.1 628.5h6.8M232.1 649.5h6.8" stroke="#00f" stroke-width="2.3" stroke-linecap="round" fill="none"/>
<g fill="#00f"><circle cx="64" cy="611" r="3.95"/><circle cx="68.9" cy="614" r="3.95"/><circle cx="73.8" cy="614.2" r="3.95"/><circle cx="78.7" cy="614.2" r="3.95"/><circle cx="83.6" cy="614.2" r="3.95"/><circle cx="88.5" cy="614" r="3.95"/><circle cx="93.4" cy="616.5" r="3.95"/><circle cx="98.3" cy="620" r="3.95"/><circle cx="103.2" cy="622" r="3.95"/><circle cx="108.1" cy="623" r="3.95"/><circle cx="113" cy="623.5" r="3.95"/><circle cx="117.9" cy="624.3" r="3.95"/><circle cx="122.8" cy="628.7" r="3.95"/><circle cx="127.7" cy="646" r="3.95"/><circle cx="132.6" cy="645.5" r="3.95"/><circle cx="137.5" cy="645" r="3.95"/><circle cx="142.4" cy="644.6" r="3.95"/><circle cx="147.3" cy="644.4" r="3.95"/><circle cx="152.2" cy="643.8" r="3.95"/><circle cx="157.1" cy="642.5" r="3.95"/><circle cx="162" cy="640.2" r="3.95"/><circle cx="166.9" cy="637.5" r="3.95"/><circle cx="171.8" cy="636.5" r="3.95"/><circle cx="176.7" cy="638" r="3.95"/><circle cx="181.6" cy="638.5" r="3.95"/><circle cx="186.5" cy="637.5" r="3.95"/><circle cx="191.4" cy="635.5" r="3.95"/><circle cx="196.3" cy="633" r="3.95"/><circle cx="201.2" cy="630.3" r="3.95"/><circle cx="206.1" cy="628.5" r="3.95"/><circle cx="211" cy="628" r="3.95"/><circle cx="215.9" cy="628.5" r="3.95"/><circle cx="220.8" cy="629.5" r="3.95"/><circle cx="225.7" cy="631" r="3.95"/><circle cx="230.6" cy="634" r="3.95"/><circle cx="235.5" cy="639" r="3.95"/></g>
<g fill="none" stroke="#f00" stroke-width="1.9"><circle cx="64" cy="776" r="7"/><circle cx="68.9" cy="763" r="7"/><circle cx="73.8" cy="754" r="7"/><circle cx="78.7" cy="733.4" r="7"/><circle cx="83.6" cy="721.4" r="7"/><circle cx="88.5" cy="709" r="7"/><circle cx="93.4" cy="707.4" r="7"/><circle cx="98.3" cy="706.6" r="7"/><circle cx="103.2" cy="701" r="7"/><circle cx="108.1" cy="695" r="7"/><circle cx="113" cy="690" r="7"/><circle cx="117.9" cy="686.4" r="7"/><circle cx="122.8" cy="690.6" r="7"/><circle cx="127.7" cy="714" r="7"/><circle cx="132.6" cy="712" r="7"/><circle cx="137.5" cy="705.4" r="7"/><circle cx="142.4" cy="699.4" r="7"/><circle cx="147.3" cy="695.4" r="7"/><circle cx="152.2" cy="692.6" r="7"/><circle cx="157.1" cy="690" r="7"/><circle cx="162" cy="684" r="7"/><circle cx="166.9" cy="678" r="7"/><circle cx="171.8" cy="674" r="7"/><circle cx="176.7" cy="676" r="7"/><circle cx="181.6" cy="675" r="7"/><circle cx="186.5" cy="672" r="7"/><circle cx="191.4" cy="668.6" r="7"/><circle cx="196.3" cy="665" r="7"/><circle cx="201.2" cy="661.6" r="7"/><circle cx="206.1" cy="659" r="7"/><circle cx="211" cy="658" r="7"/><circle cx="215.9" cy="657" r="7"/><circle cx="220.8" cy="656" r="7"/><circle cx="225.7" cy="658" r="7"/><circle cx="230.6" cy="662" r="7"/><circle cx="235.5" cy="666" r="7"/></g>
<rect x="27.4" y="579.9" width="228.35" height="230.7" fill="none" stroke="#000" stroke-width="2.2"/>
<text transform="translate(84.6 799.8) scale(0.925 1)" font-size="30.5">NGC</text><text transform="translate(144.9 799.8) scale(1.115 1)" font-size="30.5">4013</text>
</g>
<g>
<path d="M324.55 579.9v2.35M324.55 810.6v-2.35M335.75 579.9v2.35M335.75 810.6v-2.35M346.95 579.9v2.35M346.95 810.6v-2.35M358.15 579.9v2.35M358.15 810.6v-2.35M369.35 579.9v2.35M369.35 810.6v-2.35M380.55 579.9v2.35M380.55 810.6v-2.35M391.75 579.9v2.35M391.75 810.6v-2.35M402.95 579.9v2.35M402.95 810.6v-2.35M414.15 579.9v2.35M414.15 810.6v-2.35M425.35 579.9v3.9M425.35 810.6v-3.9M436.55 579.9v2.35M436.55 810.6v-2.35M447.75 579.9v2.35M447.75 810.6v-2.35M458.95 579.9v2.35M458.95 810.6v-2.35M470.15 579.9v2.35M470.15 810.6v-2.35M481.35 579.9v2.35M481.35 810.6v-2.35M492.55 579.9v2.35M492.55 810.6v-2.35M503.75 579.9v2.35M503.75 810.6v-2.35M514.95 579.9v2.35M514.95 810.6v-2.35M526.15 579.9v2.35M526.15 810.6v-2.35M537.35 579.9v3.9M537.35 810.6v-3.9M313.35 799.77h2.35M542.2 799.77h-2.35M313.35 788.59h2.35M542.2 788.59h-2.35M313.35 777.41h2.35M542.2 777.41h-2.35M313.35 766.23h2.35M542.2 766.23h-2.35M313.35 755.05h3.9M542.2 755.05h-3.9M313.35 743.87h2.35M542.2 743.87h-2.35M313.35 732.69h2.35M542.2 732.69h-2.35M313.35 721.51h2.35M542.2 721.51h-2.35M313.35 710.33h2.35M542.2 710.33h-2.35M313.35 699.15h3.9M542.2 699.15h-3.9M313.35 687.97h2.35M542.2 687.97h-2.35M313.35 676.79h2.35M542.2 676.79h-2.35M313.35 665.61h2.35M542.2 665.61h-2.35M313.35 654.43h2.35M542.2 654.43h-2.35M313.35 643.25h3.9M542.2 643.25h-3.9M313.35 632.07h2.35M542.2 632.07h-2.35M313.35 620.89h2.35M542.2 620.89h-2.35M313.35 609.71h2.35M542.2 609.71h-2.35M313.35 598.53h2.35M542.2 598.53h-2.35M313.35 587.35h3.9M542.2 587.35h-3.9" stroke="#000" stroke-width="1.3" fill="none"/>
<path d="M346.6 647.6V670.4M343.2 647.6h6.8M343.2 670.4h6.8M363.6 620.6V639M360.2 620.6h6.8M360.2 639h6.8M380.4 603V618.4M377 603h6.8M377 618.4h6.8M397.3 600.4V614.6M393.9 600.4h6.8M393.9 614.6h6.8M414.1 602.6V618.6M410.7 602.6h6.8M410.7 618.6h6.8M431 609V623.6M427.6 609h6.8M427.6 623.6h6.8M447.8 611V628M444.4 611h6.8M444.4 628h6.8M464.7 615.6V630.4M461.3 615.6h6.8M461.3 630.4h6.8M481.6 619.6V633M478.2 619.6h6.8M478.2 633h6.8M490.4 626.6V646.6M487 626.6h6.8M487 646.6h6.8M499.4 610V629.6M496 610h6.8M496 629.6h6.8M521 607.4V625M517.6 607.4h6.8M517.6 625h6.8" stroke="#00f" stroke-width="2.3" stroke-linecap="round" fill="none"/>
<g fill="#00f"><circle cx="346.6" cy="659" r="3.95"/><circle cx="363.6" cy="630" r="3.95"/><circle cx="380.4" cy="610.6" r="3.95"/><circle cx="397.3" cy="607.6" r="3.95"/><circle cx="414.1" cy="610.6" r="3.95"/><circle cx="431" cy="616.4" r="3.95"/><circle cx="447.8" cy="619.4" r="3.95"/><circle cx="464.7" cy="623" r="3.95"/><circle cx="481.6" cy="626.4" r="3.95"/><circle cx="490.4" cy="636.6" r="3.95"/><circle cx="499.4" cy="619.6" r="3.95"/><circle cx="521" cy="616" r="3.95"/></g>
<g fill="none" stroke="#f00" stroke-width="1.9"><circle cx="346.6" cy="739.4" r="7"/><circle cx="363.6" cy="707.4" r="7"/><circle cx="380.4" cy="698.4" r="7"/><circle cx="397.3" cy="699.4" r="7"/><circle cx="414.1" cy="701.6" r="7"/><circle cx="431" cy="700" r="7"/><circle cx="447.8" cy="690.6" r="7"/><circle cx="464.7" cy="684" r="7"/><circle cx="481.6" cy="680" r="7"/><circle cx="490.4" cy="691" r="7"/><circle cx="499.4" cy="664" r="7"/><circle cx="521" cy="654" r="7"/></g>
<rect x="313.35" y="579.9" width="228.85" height="230.7" fill="none" stroke="#000" stroke-width="2.2"/>
<text transform="translate(370.55 799.8) scale(0.925 1)" font-size="30.5">NGC</text><text transform="translate(430.85 799.8) scale(1.115 1)" font-size="30.5">4088</text>
</g>
<g>
<path d="M620.05 579.9v2.35M620.05 810.6v-2.35M641.3 579.9v2.35M641.3 810.6v-2.35M662.55 579.9v2.35M662.55 810.6v-2.35M683.8 579.9v2.35M683.8 810.6v-2.35M705.05 579.9v2.35M705.05 810.6v-2.35M726.3 579.9v2.35M726.3 810.6v-2.35M747.55 579.9v2.35M747.55 810.6v-2.35M768.8 579.9v2.35M768.8 810.6v-2.35M790.05 579.9v2.35M790.05 810.6v-2.35M811.3 579.9v3.9M811.3 810.6v-3.9M598.8 799.05h2.35M827.1 799.05h-2.35M598.8 787.15h2.35M827.1 787.15h-2.35M598.8 775.25h2.35M827.1 775.25h-2.35M598.8 763.35h2.35M827.1 763.35h-2.35M598.8 751.45h3.9M827.1 751.45h-3.9M598.8 739.55h2.35M827.1 739.55h-2.35M598.8 727.65h2.35M827.1 727.65h-2.35M598.8 715.75h2.35M827.1 715.75h-2.35M598.8 703.85h2.35M827.1 703.85h-2.35M598.8 691.95h3.9M827.1 691.95h-3.9M598.8 680.05h2.35M827.1 680.05h-2.35M598.8 668.15h2.35M827.1 668.15h-2.35M598.8 656.25h2.35M827.1 656.25h-2.35M598.8 644.35h2.35M827.1 644.35h-2.35M598.8 632.45h3.9M827.1 632.45h-3.9M598.8 620.55h2.35M827.1 620.55h-2.35M598.8 608.65h2.35M827.1 608.65h-2.35M598.8 596.75h2.35M827.1 596.75h-2.35M598.8 584.85h2.35M827.1 584.85h-2.35" stroke="#000" stroke-width="1.3" fill="none"/>
<path d="M646.6 655.6V676.6M643.2 655.6h6.8M643.2 676.6h6.8M662.6 632V650.4M659.2 632h6.8M659.2 650.4h6.8M678.6 620V636M675.2 620h6.8M675.2 636h6.8M694.6 613V626.4M691.2 613h6.8M691.2 626.4h6.8M710.6 610.4V624M707.2 610.4h6.8M707.2 624h6.8M726.6 605.4V617.4M723.2 605.4h6.8M723.2 617.4h6.8M742.6 602.6V615.4M739.2 602.6h6.8M739.2 615.4h6.8M758.6 600V613M755.2 600h6.8M755.2 613h6.8M774.6 600V613M771.2 600h6.8M771.2 613h6.8M790.6 600.4V615M787.2 600.4h6.8M787.2 615h6.8M806.6 600V618M803.2 600h6.8M803.2 618h6.8" stroke="#00f" stroke-width="2.3" stroke-linecap="round" fill="none"/>
<g fill="#00f"><circle cx="646.6" cy="666.4" r="3.95"/><circle cx="662.6" cy="641.4" r="3.95"/><circle cx="678.6" cy="628" r="3.95"/><circle cx="694.6" cy="619.6" r="3.95"/><circle cx="710.6" cy="617.4" r="3.95"/><circle cx="726.6" cy="611" r="3.95"/><circle cx="742.6" cy="609" r="3.95"/><circle cx="758.6" cy="606.6" r="3.95"/><circle cx="774.6" cy="606.6" r="3.95"/><circle cx="790.6" cy="607.6" r="3.95"/><circle cx="806.6" cy="609" r="3.95"/></g>
<g fill="none" stroke="#f00" stroke-width="1.9"><circle cx="646.6" cy="750.6" r="7"/><circle cx="662.6" cy="715.4" r="7"/><circle cx="678.6" cy="712" r="7"/><circle cx="694.6" cy="710.4" r="7"/><circle cx="710.6" cy="721" r="7"/><circle cx="726.6" cy="716" r="7"/><circle cx="742.6" cy="713.6" r="7"/><circle cx="758.6" cy="707.4" r="7"/><circle cx="774.6" cy="704" r="7"/><circle cx="790.6" cy="699" r="7"/><circle cx="806.6" cy="695.6" r="7"/></g>
<rect x="598.8" y="579.9" width="228.3" height="230.7" fill="none" stroke="#000" stroke-width="2.2"/>
<text transform="translate(656 799.8) scale(0.925 1)" font-size="30.5">NGC</text><text transform="translate(716.3 799.8) scale(1.115 1)" font-size="30.5">3877</text>
</g>
<g>
<path d="M38 868.6v2.35M38 1099.2v-2.35M48.6 868.6v2.35M48.6 1099.2v-2.35M59.2 868.6v2.35M59.2 1099.2v-2.35M69.8 868.6v2.35M69.8 1099.2v-2.35M80.4 868.6v2.35M80.4 1099.2v-2.35M91 868.6v2.35M91 1099.2v-2.35M101.6 868.6v2.35M101.6 1099.2v-2.35M112.2 868.6v2.35M112.2 1099.2v-2.35M122.8 868.6v2.35M122.8 1099.2v-2.35M133.4 868.6v3.9M133.4 1099.2v-3.9M144 868.6v2.35M144 1099.2v-2.35M154.6 868.6v2.35M154.6 1099.2v-2.35M165.2 868.6v2.35M165.2 1099.2v-2.35M175.8 868.6v2.35M175.8 1099.2v-2.35M186.4 868.6v2.35M186.4 1099.2v-2.35M197 868.6v2.35M197 1099.2v-2.35M207.6 868.6v2.35M207.6 1099.2v-2.35M218.2 868.6v2.35M218.2 1099.2v-2.35M228.8 868.6v2.35M228.8 1099.2v-2.35M239.4 868.6v3.9M239.4 1099.2v-3.9M250 868.6v2.35M250 1099.2v-2.35M27.4 1089.11h2.35M255.75 1089.11h-2.35M27.4 1078.67h2.35M255.75 1078.67h-2.35M27.4 1068.23h2.35M255.75 1068.23h-2.35M27.4 1057.79h2.35M255.75 1057.79h-2.35M27.4 1047.35h3.9M255.75 1047.35h-3.9M27.4 1036.91h2.35M255.75 1036.91h-2.35M27.4 1026.47h2.35M255.75 1026.47h-2.35M27.4 1016.03h2.35M255.75 1016.03h-2.35M27.4 1005.59h2.35M255.75 1005.59h-2.35M27.4 995.15h3.9M255.75 995.15h-3.9M27.4 984.71h2.35M255.75 984.71h-2.35M27.4 974.27h2.35M255.75 974.27h-2.35M27.4 963.83h2.35M255.75 963.83h-2.35M27.4 953.39h2.35M255.75 953.39h-2.35M27.4 942.95h3.9M255.75 942.95h-3.9M27.4 932.51h2.35M255.75 932.51h-2.35M27.4 922.07h2.35M255.75 922.07h-2.35M27.4 911.63h2.35M255.75 911.63h-2.35M27.4 901.19h2.35M255.75 901.19h-2.35M27.4 890.75h3.9M255.75 890.75h-3.9M27.4 880.31h2.35M255.75 880.31h-2.35M27.4 869.87h2.35M255.75 869.87h-2.35" stroke="#000" stroke-width="1.3" fill="none"/>
<path d="M51.2 962.6V984.6M47.8 962.6h6.8M47.8 984.6h6.8M59.21 936.4V952.4M55.81 936.4h6.8M55.81 952.4h6.8M67.22 917V930.4M63.82 917h6.8M63.82 930.4h6.8M75.23 903V915.4M71.83 903h6.8M71.83 915.4h6.8M83.24 895V905.4M79.84 895h6.8M79.84 905.4h6.8M91.25 890.4V902M87.84 890.4h6.8M87.84 902h6.8M99.25 889V901M95.85 889h6.8M95.85 901h6.8M107.26 893V902.6M103.86 893h6.8M103.86 902.6h6.8M115.27 895.1V902.1M111.87 895.1h6.8M111.87 902.1h6.8M123.28 895.1V902.1M119.88 895.1h6.8M119.88 902.1h6.8M131.29 895V904M127.89 895h6.8M127.89 904h6.8M139.3 897V906.6M135.9 897h6.8M135.9 906.6h6.8M147.31 900V911.6M143.91 900h6.8M143.91 911.6h6.8M155.32 904V914M151.92 904h6.8M151.92 914h6.8M163.33 905V919.4M159.93 905h6.8M159.93 919.4h6.8M171.34 908.4V922M167.94 908.4h6.8M167.94 922h6.8M179.34 910.4V924.6M175.94 910.4h6.8M175.94 924.6h6.8M187.35 904V921.6M183.95 904h6.8M183.95 921.6h6.8M195.36 907.6V920.6M191.96 907.6h6.8M191.96 920.6h6.8M203.37 915.6V929M199.97 915.6h6.8M199.97 929h6.8M211.38 926.4V941M207.98 926.4h6.8M207.98 941h6.8M219.39 926V942M215.99 926h6.8M215.99 942h6.8M227.4 924.4V943.6M224 924.4h6.8M224 943.6h6.8M235.41 923V942.4M232.01 923h6.8M232.01 942.4h6.8" stroke="#00f" stroke-width="2.3" stroke-linecap="round" fill="none"/>
<g fill="#00f"><circle cx="51.2" cy="973.6" r="3.95"/><circle cx="59.21" cy="944.4" r="3.95"/><circle cx="67.22" cy="923.6" r="3.95"/><circle cx="75.23" cy="909.4" r="3.95"/><circle cx="83.24" cy="900" r="3.95"/><circle cx="91.25" cy="896.4" r="3.95"/><circle cx="99.25" cy="895" r="3.95"/><circle cx="107.26" cy="898" r="3.95"/><circle cx="115.27" cy="898.6" r="3.95"/><circle cx="123.28" cy="898.6" r="3.95"/><circle cx="131.29" cy="899.4" r="3.95"/><circle cx="139.3" cy="902" r="3.95"/><circle cx="147.31" cy="906" r="3.95"/><circle cx="155.32" cy="909" r="3.95"/><circle cx="163.33" cy="912" r="3.95"/><circle cx="171.34" cy="915" r="3.95"/><circle cx="179.34" cy="917.4" r="3.95"/><circle cx="187.35" cy="913" r="3.95"/><circle cx="195.36" cy="914.4" r="3.95"/><circle cx="203.37" cy="922" r="3.95"/><circle cx="211.38" cy="933.6" r="3.95"/><circle cx="219.39" cy="933.6" r="3.95"/><circle cx="227.4" cy="933.6" r="3.95"/><circle cx="235.41" cy="932.6" r="3.95"/></g>
<g fill="none" stroke="#f00" stroke-width="1.9"><circle cx="59.21" cy="1044.4" r="7"/><circle cx="67.22" cy="1023.4" r="7"/><circle cx="75.23" cy="1027.6" r="7"/><circle cx="83.24" cy="1038.4" r="7"/><circle cx="91.25" cy="1038.4" r="7"/><circle cx="99.25" cy="1023.6" r="7"/><circle cx="107.26" cy="1013.4" r="7"/><circle cx="115.27" cy="995.6" r="7"/><circle cx="123.28" cy="983.6" r="7"/><circle cx="131.29" cy="976" r="7"/><circle cx="139.3" cy="975.6" r="7"/><circle cx="147.31" cy="977.6" r="7"/><circle cx="155.32" cy="978" r="7"/><circle cx="163.33" cy="977.4" r="7"/><circle cx="171.34" cy="978" r="7"/><circle cx="179.34" cy="976.4" r="7"/><circle cx="187.35" cy="965.6" r="7"/><circle cx="195.36" cy="963" r="7"/><circle cx="203.37" cy="971.4" r="7"/><circle cx="211.38" cy="984.4" r="7"/><circle cx="219.39" cy="981.6" r="7"/><circle cx="227.4" cy="979.6" r="7"/><circle cx="235.41" cy="975.6" r="7"/></g>
<rect x="27.4" y="868.6" width="228.35" height="230.6" fill="none" stroke="#000" stroke-width="2.2"/>
<text transform="translate(84.6 1088.5) scale(0.925 1)" font-size="30.5">NGC</text><text transform="translate(144.9 1088.5) scale(1.115 1)" font-size="30.5">4100</text>
</g>
<g>
<path d="M320.4 868.6v2.35M320.4 1099.2v-2.35M327.45 868.6v2.35M327.45 1099.2v-2.35M334.5 868.6v2.35M334.5 1099.2v-2.35M341.55 868.6v2.35M341.55 1099.2v-2.35M348.6 868.6v2.35M348.6 1099.2v-2.35M355.65 868.6v2.35M355.65 1099.2v-2.35M362.7 868.6v2.35M362.7 1099.2v-2.35M369.75 868.6v2.35M369.75 1099.2v-2.35M376.8 868.6v2.35M376.8 1099.2v-2.35M383.85 868.6v3.9M383.85 1099.2v-3.9M390.9 868.6v2.35M390.9 1099.2v-2.35M397.95 868.6v2.35M397.95 1099.2v-2.35M405 868.6v2.35M405 1099.2v-2.35M412.05 868.6v2.35M412.05 1099.2v-2.35M419.1 868.6v2.35M419.1 1099.2v-2.35M426.15 868.6v2.35M426.15 1099.2v-2.35M433.2 868.6v2.35M433.2 1099.2v-2.35M440.25 868.6v2.35M440.25 1099.2v-2.35M447.3 868.6v2.35M447.3 1099.2v-2.35M454.35 868.6v3.9M454.35 1099.2v-3.9M461.4 868.6v2.35M461.4 1099.2v-2.35M468.45 868.6v2.35M468.45 1099.2v-2.35M475.5 868.6v2.35M475.5 1099.2v-2.35M482.55 868.6v2.35M482.55 1099.2v-2.35M489.6 868.6v2.35M489.6 1099.2v-2.35M496.65 868.6v2.35M496.65 1099.2v-2.35M503.7 868.6v2.35M503.7 1099.2v-2.35M510.75 868.6v2.35M510.75 1099.2v-2.35M517.8 868.6v2.35M517.8 1099.2v-2.35M524.85 868.6v3.9M524.85 1099.2v-3.9M531.9 868.6v2.35M531.9 1099.2v-2.35M538.95 868.6v2.35M538.95 1099.2v-2.35M313.35 1087.89h2.35M542.2 1087.89h-2.35M313.35 1076.23h2.35M542.2 1076.23h-2.35M313.35 1064.57h2.35M542.2 1064.57h-2.35M313.35 1052.91h2.35M542.2 1052.91h-2.35M313.35 1041.25h3.9M542.2 1041.25h-3.9M313.35 1029.59h2.35M542.2 1029.59h-2.35M313.35 1017.93h2.35M542.2 1017.93h-2.35M313.35 1006.27h2.35M542.2 1006.27h-2.35M313.35 994.61h2.35M542.2 994.61h-2.35M313.35 982.95h3.9M542.2 982.95h-3.9M313.35 971.29h2.35M542.2 971.29h-2.35M313.35 959.63h2.35M542.2 959.63h-2.35M313.35 947.97h2.35M542.2 947.97h-2.35M313.35 936.31h2.35M542.2 936.31h-2.35M313.35 924.65h3.9M542.2 924.65h-3.9M313.35 912.99h2.35M542.2 912.99h-2.35M313.35 901.33h2.35M542.2 901.33h-2.35M313.35 889.67h2.35M542.2 889.67h-2.35M313.35 878.01h2.35M542.2 878.01h-2.35" stroke="#000" stroke-width="1.3" fill="none"/>
<path d="M344.2 946V970M340.8 946h6.8M340.8 970h6.8M354.6 941.8V944.2M351.2 941.8h6.8M351.2 944.2h6.8M365 923.6V931.6M361.6 923.6h6.8M361.6 931.6h6.8M375.4 906V918.6M372 906h6.8M372 918.6h6.8M385.8 893.4V914.6M382.4 893.4h6.8M382.4 914.6h6.8M396.2 888.4V912.6M392.8 888.4h6.8M392.8 912.6h6.8M406.6 891V910.4M403.2 891h6.8M403.2 910.4h6.8M417 899V905M413.6 899h6.8M413.6 905h6.8M427.4 903.5V906.5M424 903.5h6.8M424 906.5h6.8M437.8 907.5V910.5M434.4 907.5h6.8M434.4 910.5h6.8M448.2 907.5V910.5M444.8 907.5h6.8M444.8 910.5h6.8M458.6 902.6V908M455.2 902.6h6.8M455.2 908h6.8M469 903.6V909.6M465.6 903.6h6.8M465.6 909.6h6.8M479.4 903.6V909.6M476 903.6h6.8M476 909.6h6.8M489.8 900V910.4M486.4 900h6.8M486.4 910.4h6.8M500.2 902.6V913M496.8 902.6h6.8M496.8 913h6.8M510.6 904.6V917.4M507.2 904.6h6.8M507.2 917.4h6.8M521 905V921.6M517.6 905h6.8M517.6 921.6h6.8" stroke="#00f" stroke-width="2.3" stroke-linecap="round" fill="none"/>
<g fill="#00f"><circle cx="344.2" cy="958" r="3.95"/><circle cx="354.6" cy="943" r="3.95"/><circle cx="365" cy="927.6" r="3.95"/><circle cx="375.4" cy="912.4" r="3.95"/><circle cx="385.8" cy="904" r="3.95"/><circle cx="396.2" cy="900.6" r="3.95"/><circle cx="406.6" cy="900.4" r="3.95"/><circle cx="417" cy="902" r="3.95"/><circle cx="427.4" cy="905" r="3.95"/><circle cx="437.8" cy="909" r="3.95"/><circle cx="448.2" cy="909" r="3.95"/><circle cx="458.6" cy="905" r="3.95"/><circle cx="469" cy="906.4" r="3.95"/><circle cx="479.4" cy="906.4" r="3.95"/><circle cx="489.8" cy="905" r="3.95"/><circle cx="500.2" cy="907.6" r="3.95"/><circle cx="510.6" cy="910.6" r="3.95"/><circle cx="521" cy="913.6" r="3.95"/></g>
<g fill="none" stroke="#f00" stroke-width="1.9"><circle cx="344.2" cy="995" r="7"/><circle cx="354.6" cy="986" r="7"/><circle cx="365" cy="973" r="7"/><circle cx="375.4" cy="962" r="7"/><circle cx="385.8" cy="956" r="7"/><circle cx="396.2" cy="954.6" r="7"/><circle cx="406.6" cy="961.6" r="7"/><circle cx="417" cy="964" r="7"/><circle cx="427.4" cy="957.6" r="7"/><circle cx="437.8" cy="953" r="7"/><circle cx="448.2" cy="948" r="7"/><circle cx="458.6" cy="939.6" r="7"/><circle cx="469" cy="939.6" r="7"/><circle cx="479.4" cy="939" r="7"/><circle cx="489.8" cy="938.4" r="7"/><circle cx="500.2" cy="942" r="7"/><circle cx="510.6" cy="943" r="7"/><circle cx="521" cy="944.6" r="7"/></g>
<rect x="313.35" y="868.6" width="228.85" height="230.6" fill="none" stroke="#000" stroke-width="2.2"/>
<text transform="translate(370.55 1088.5) scale(0.925 1)" font-size="30.5">NGC</text><text transform="translate(430.85 1088.5) scale(1.115 1)" font-size="30.5">6946</text>
</g>
<g>
<path d="M615 868.6v2.35M615 1099.2v-2.35M631.2 868.6v2.35M631.2 1099.2v-2.35M647.4 868.6v2.35M647.4 1099.2v-2.35M663.6 868.6v2.35M663.6 1099.2v-2.35M679.8 868.6v2.35M679.8 1099.2v-2.35M696 868.6v2.35M696 1099.2v-2.35M712.2 868.6v2.35M712.2 1099.2v-2.35M728.4 868.6v2.35M728.4 1099.2v-2.35M744.6 868.6v2.35M744.6 1099.2v-2.35M760.8 868.6v3.9M760.8 1099.2v-3.9M777 868.6v2.35M777 1099.2v-2.35M793.2 868.6v2.35M793.2 1099.2v-2.35M809.4 868.6v2.35M809.4 1099.2v-2.35M825.6 868.6v2.35M825.6 1099.2v-2.35M598.8 1085.01h2.35M827.1 1085.01h-2.35M598.8 1070.47h2.35M827.1 1070.47h-2.35M598.8 1055.93h2.35M827.1 1055.93h-2.35M598.8 1041.39h2.35M827.1 1041.39h-2.35M598.8 1026.85h3.9M827.1 1026.85h-3.9M598.8 1012.31h2.35M827.1 1012.31h-2.35M598.8 997.77h2.35M827.1 997.77h-2.35M598.8 983.23h2.35M827.1 983.23h-2.35M598.8 968.69h2.35M827.1 968.69h-2.35M598.8 954.15h3.9M827.1 954.15h-3.9M598.8 939.61h2.35M827.1 939.61h-2.35M598.8 925.07h2.35M827.1 925.07h-2.35M598.8 910.53h2.35M827.1 910.53h-2.35M598.8 895.99h2.35M827.1 895.99h-2.35M598.8 881.45h3.9M827.1 881.45h-3.9" stroke="#000" stroke-width="1.3" fill="none"/>
<path d="M623 1021V1033M619.6 1021h6.8M619.6 1033h6.8M635.23 984V1000M631.83 984h6.8M631.83 1000h6.8M647.45 945V959.4M644.05 945h6.8M644.05 959.4h6.8M659.68 938.4V948.6M656.28 938.4h6.8M656.28 948.6h6.8M671.91 926.4V937.6M668.51 926.4h6.8M668.51 937.6h6.8M684.13 914V926.4M680.74 914h6.8M680.74 926.4h6.8M696.36 904.4V916M692.96 904.4h6.8M692.96 916h6.8M708.59 899V909.6M705.19 899h6.8M705.19 909.6h6.8M720.82 895V907.4M717.42 895h6.8M717.42 907.4h6.8M733.04 893.6V906M729.64 893.6h6.8M729.64 906h6.8M745.27 896.4V906.6M741.87 896.4h6.8M741.87 906.6h6.8M757.5 894.4V905M754.1 894.4h6.8M754.1 905h6.8M769.72 894V905.6M766.32 894h6.8M766.32 905.6h6.8M781.95 892V907.6M778.55 892h6.8M778.55 907.6h6.8M794.18 891V906M790.78 891h6.8M790.78 906h6.8M806.4 888.4V911M803 888.4h6.8M803 911h6.8" stroke="#00f" stroke-width="2.3" stroke-linecap="round" fill="none"/>
<g fill="#00f"><circle cx="623" cy="1027" r="3.95"/><circle cx="635.23" cy="992" r="3.95"/><circle cx="647.45" cy="952.4" r="3.95"/><circle cx="659.68" cy="943.4" r="3.95"/><circle cx="671.91" cy="932" r="3.95"/><circle cx="684.13" cy="920.4" r="3.95"/><circle cx="696.36" cy="910" r="3.95"/><circle cx="708.59" cy="904.4" r="3.95"/><circle cx="720.82" cy="901.4" r="3.95"/><circle cx="733.04" cy="899.6" r="3.95"/><circle cx="745.27" cy="901.4" r="3.95"/><circle cx="757.5" cy="900" r="3.95"/><circle cx="769.72" cy="899.6" r="3.95"/><circle cx="781.95" cy="899.6" r="3.95"/><circle cx="794.18" cy="898.6" r="3.95"/><circle cx="806.4" cy="899.6" r="3.95"/></g>
<g fill="none" stroke="#f00" stroke-width="1.9"><circle cx="635.23" cy="1034.4" r="7"/><circle cx="647.45" cy="994.6" r="7"/><circle cx="659.68" cy="995" r="7"/><circle cx="671.91" cy="989.6" r="7"/><circle cx="684.13" cy="979.6" r="7"/><circle cx="696.36" cy="971.6" r="7"/><circle cx="708.59" cy="966.4" r="7"/><circle cx="720.82" cy="961.4" r="7"/><circle cx="733.04" cy="959.4" r="7"/><circle cx="745.27" cy="960.4" r="7"/><circle cx="757.5" cy="957" r="7"/><circle cx="769.72" cy="953.4" r="7"/><circle cx="781.95" cy="949.4" r="7"/><circle cx="794.18" cy="943.6" r="7"/><circle cx="806.4" cy="940.6" r="7"/></g>
<rect x="598.8" y="868.6" width="228.3" height="230.6" fill="none" stroke="#000" stroke-width="2.2"/>
<text transform="translate(656 1088.5) scale(0.925 1)" font-size="30.5">NGC</text><text transform="translate(716.3 1088.5) scale(1.115 1)" font-size="30.5">3917</text>
</g>
<text transform="translate(378 560) scale(0.95 1)" font-size="30.5">R</text><text transform="translate(398.3 560) scale(1.215 1)" font-size="30.5">adius</text>
<text transform="translate(22.8 604.5) rotate(-90) scale(0.8 1)" font-size="30.5">V</text><text transform="translate(22.8 586) rotate(-90) scale(1.25 1)" font-size="30.5">elocit</text><text transform="translate(22.8 502) rotate(-90) scale(0.95 1)" font-size="30.5">y</text>
</svg>
</body></html>
